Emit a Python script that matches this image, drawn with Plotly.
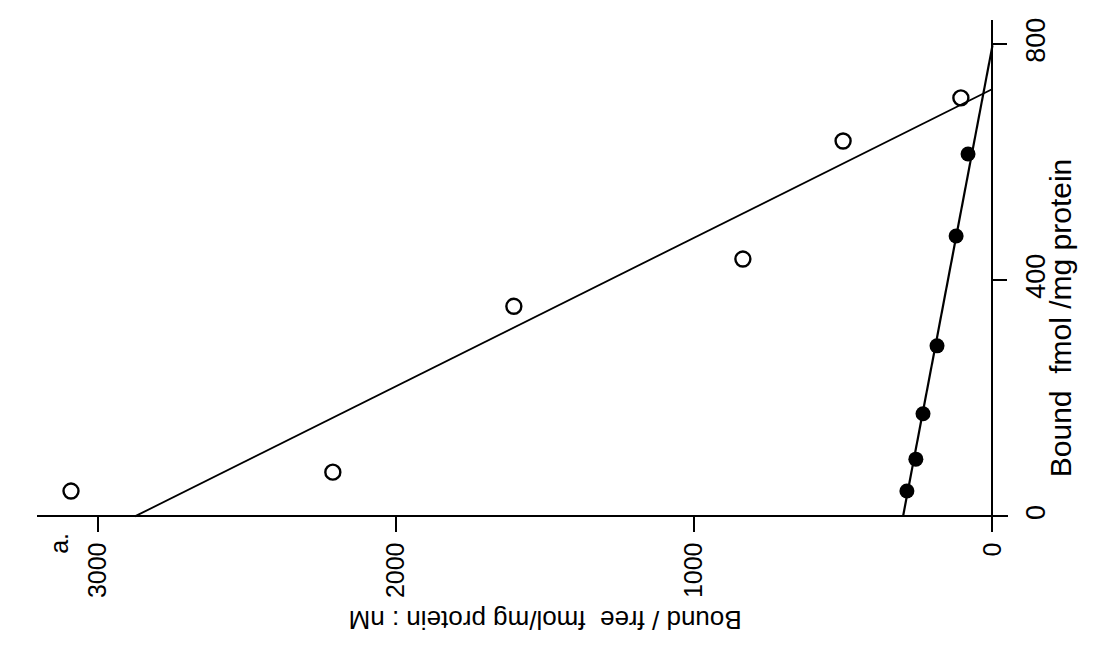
import plotly.graph_objects as go

# Scatchard analysis: bound/free ratio against bound ligand
bound_open = [43, 75, 356, 436, 636, 709]
ratio_open = [3090, 2212, 1605, 837, 501, 106]

bound_filled = [43, 97, 174, 289, 475, 614]
ratio_filled = [287, 257, 233, 186, 122, 82]

# fitted lines: intercepts on each axis
open_fit_ratio0 = 2876   # bound/free at bound = 0
open_fit_bmax = 724      # bound at bound/free = 0
filled_fit_ratio0 = 300
filled_fit_bmax = 798

ratio_ticks = [0, 1000, 2000, 3000]
bound_ticks = [0, 400, 800]

FONT = "Liberation Sans"
ink = "black"

fig = go.Figure()

fig.add_trace(go.Scatter(
    x=[open_fit_ratio0, 0], y=[0, open_fit_bmax], mode="lines",
    line=dict(color=ink, width=1.8), showlegend=False, hoverinfo="skip"))
fig.add_trace(go.Scatter(
    x=[filled_fit_ratio0, 0], y=[0, filled_fit_bmax], mode="lines",
    line=dict(color=ink, width=2.2), showlegend=False, hoverinfo="skip"))

fig.add_trace(go.Scatter(
    x=ratio_open, y=bound_open, mode="markers",
    marker=dict(symbol="circle-open", size=15, color=ink, line=dict(width=2.4)),
    showlegend=False))
fig.add_trace(go.Scatter(
    x=ratio_filled, y=bound_filled, mode="markers",
    marker=dict(symbol="circle", size=15, color=ink),
    showlegend=False))

fig.update_layout(
    width=1104, height=669,
    margin=dict(l=37, r=96, t=20, b=139),
    paper_bgcolor="white", plot_bgcolor="white",
    font=dict(family=FONT, size=25, color=ink),
    xaxis=dict(
        range=[3204, -52], tickvals=ratio_ticks, ticktext=[str(v) for v in ratio_ticks],
        tickangle=-90, ticks="outside", ticklen=15, tickwidth=2, tickcolor=ink,
        showline=True, linecolor=ink, linewidth=2, showgrid=False, zeroline=False,
        anchor="free", position=0.0265,
        tickfont=dict(family=FONT, size=25, color=ink)),
    yaxis=dict(
        range=[-23, 841], tickvals=bound_ticks, ticktext=[str(v) for v in bound_ticks],
        tickangle=-90, ticks="outside", ticklen=14, tickwidth=2, tickcolor=ink,
        ticklabelstandoff=5,
        showline=True, linecolor=ink, linewidth=2, showgrid=False, zeroline=False,
        side="right", anchor="free", position=0.984,
        tickfont=dict(family=FONT, size=27, color=ink)),
    annotations=[
        dict(text="Bound / free  fmol/mg protein : nM", xref="paper", yref="paper",
             x=0.523, y=-0.21, showarrow=False, textangle=180,
             font=dict(family=FONT, size=26, color=ink)),
        dict(text="Bound  fmol /mg protein", xref="paper", yref="paper",
             x=1.073, y=0.416, showarrow=False, textangle=-90,
             font=dict(family=FONT, size=30, color=ink)),
        dict(text="a.", xref="paper", yref="paper", x=0.006, y=-0.05,
             showarrow=False, textangle=-90,
             font=dict(family=FONT, size=25, color=ink)),
    ],
)

fig.write_html("out.html")
